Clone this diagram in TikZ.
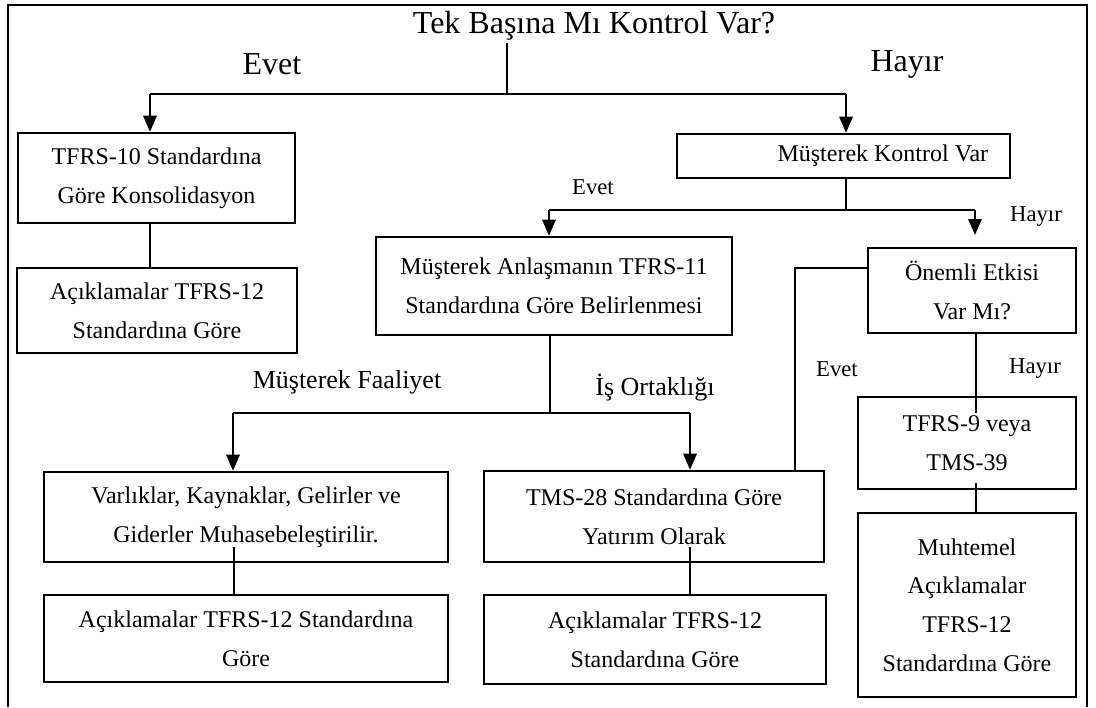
\documentclass[tikz,border=0pt]{standalone}
\usepackage{fontspec}
\setmainfont{Liberation Serif}
\usetikzlibrary{arrows.meta}
\tikzset{
  box/.style={draw, line width=1.9pt, align=center, inner sep=0pt,
    font=\fontsize{18}{29}\selectfont},
  link/.style={line width=0.8pt},
  down/.style={line width=1.5pt, -{Triangle[width=10pt,length=12pt]}},
  big/.style={font=\fontsize{24}{28}\selectfont},
  mid/.style={font=\fontsize{19.5}{23}\selectfont},
  small/.style={font=\fontsize{17}{20}\selectfont},
}

\begin{document}
\begin{tikzpicture}[x=0.75pt, y=-0.75pt]
    \useasboundingbox (0,0) rectangle (1096,707);

    % frame, open at the bottom
    \draw [line width=2.2pt] (8,707) -- (8,5) -- (1087,5) -- (1087,707);

    % boxes
    \node [box, minimum width=207.75pt, minimum height=67.5pt] (tfrs10) at (156.5,178)
      {TFRS-10 Standardına\\Göre Konsolidasyon};
    \node [box, minimum width=210pt, minimum height=63.75pt] (acik1) at (157,310.5)
      {Açıklamalar TFRS-12\\Standardına Göre};
    \node [box, minimum width=249.75pt, minimum height=33pt] (mkv) at (843.5,156)
      {\hspace*{59pt}Müşterek Kontrol Var};
    \node [box, minimum width=267pt, minimum height=73.5pt] (anl) at (554,286)
      {Müşterek Anlaşmanın TFRS-11\\Standardına Göre Belirlenmesi};
    \node [box, minimum width=156pt, minimum height=63.75pt] (onemli) at (972,290.5)
      {Önemli Etkisi\\Var Mı?};
    \node [box, minimum width=303pt, minimum height=67.5pt] (varlik) at (246,517)
      {Varlıklar, Kaynaklar, Gelirler ve\\Giderler Muhasebeleştirilir.};
    \node [box, minimum width=255pt, minimum height=68.25pt] (tms28) at (654,516.5)
      {TMS-28 Standardına Göre\\Yatırım Olarak};
    \node [box, minimum width=303pt, minimum height=65.25pt] (acik2) at (246,638.5)
      {Açıklamalar TFRS-12 Standardına\\Göre};
    \node [box, minimum width=256.5pt, minimum height=66.75pt] (acik3) at (655,639.5)
      {Açıklamalar TFRS-12\\Standardına Göre};
    \node [box, minimum width=163.5pt, minimum height=69pt] (tfrs9) at (967,443)
      {TFRS-9 veya\\TMS-39};
    \node [box, minimum width=163.5pt, minimum height=138pt] (muhtemel) at (967,605)
      {Muhtemel\\Açıklamalar\\TFRS-12\\Standardına Göre};

    % add labels
    \node [font=\fontsize{24}{28}\selectfont, inner sep=1.5pt] (title) at (594,26)
      {Tek Başına Mı Kontrol Var?};
    \node [big] (evetA) at (272,64) {Evet};
    \node [big] (hayirA) at (907,64) {Hayır};
    \node [small] (evetB) at (593,187) {Evet};
    \node [small] (hayirB) at (1036,217) {Hayır};
    \node [mid] (faaliyet) at (347,382) {Müşterek Faaliyet};
    \node [mid] (ortak) at (655,388) {İş Ortaklığı};
    \node [small] (evetC) at (837,369) {Evet};
    \node [small] (hayirC) at (1035,369) {Hayır};

    % coordinates to be reused
    \coordinate (top) at (507,94);
    \coordinate (topL) at (150,94);
    \coordinate (topR) at (846,94);
    \coordinate (mid) at (846,210);
    \coordinate (midL) at (549,210);
    \coordinate (midR) at (975,210);
    \coordinate (midEnd) at (975,235);
    \coordinate (low) at (550,413);
    \coordinate (lowL) at (233,413);
    \coordinate (lowR) at (690,413);
    \coordinate (vIn) at (234,547);
    \coordinate (tIn) at (690,547);
    \coordinate (oIn) at (976,413);
    \coordinate (mIn) at (976,483);
    \coordinate (eTurn) at (795,268);

    % draw connectors
    \draw [link] (title.south -| top) -- (top);
    \draw [link] (topL) -- (topR);
    \draw [down] (topL) -- (topL |- tfrs10.north);
    \draw [down] (topR) -- (topR |- mkv.north);
    \draw [link] (tfrs10.south -| topL) -- (acik1.north -| topL);

    \draw [link] (mkv.south -| mid) -- (mid);
    \draw [link] (midL) -- (midR);
    \draw [down] (midL) -- (midL |- anl.north);
    \draw [down] (midR) -- (midEnd);

    \draw [link] (anl.south -| low) -- (low);
    \draw [link] (lowL) -- (lowR);
    \draw [down] (lowL) -- (lowL |- varlik.north);
    \draw [down] (lowR) -- (lowR |- tms28.north);
    \draw [link] (vIn) -- (vIn |- acik2.north);
    \draw [link] (tIn) -- (tIn |- acik3.north);

    \draw [link] (onemli.west |- eTurn) -- (eTurn) -- (eTurn |- tms28.north);
    \draw [link] (onemli.south -| oIn) -- (oIn);
    \draw [link] (mIn) -- (mIn |- muhtemel.north);
\end{tikzpicture}
\end{document}
